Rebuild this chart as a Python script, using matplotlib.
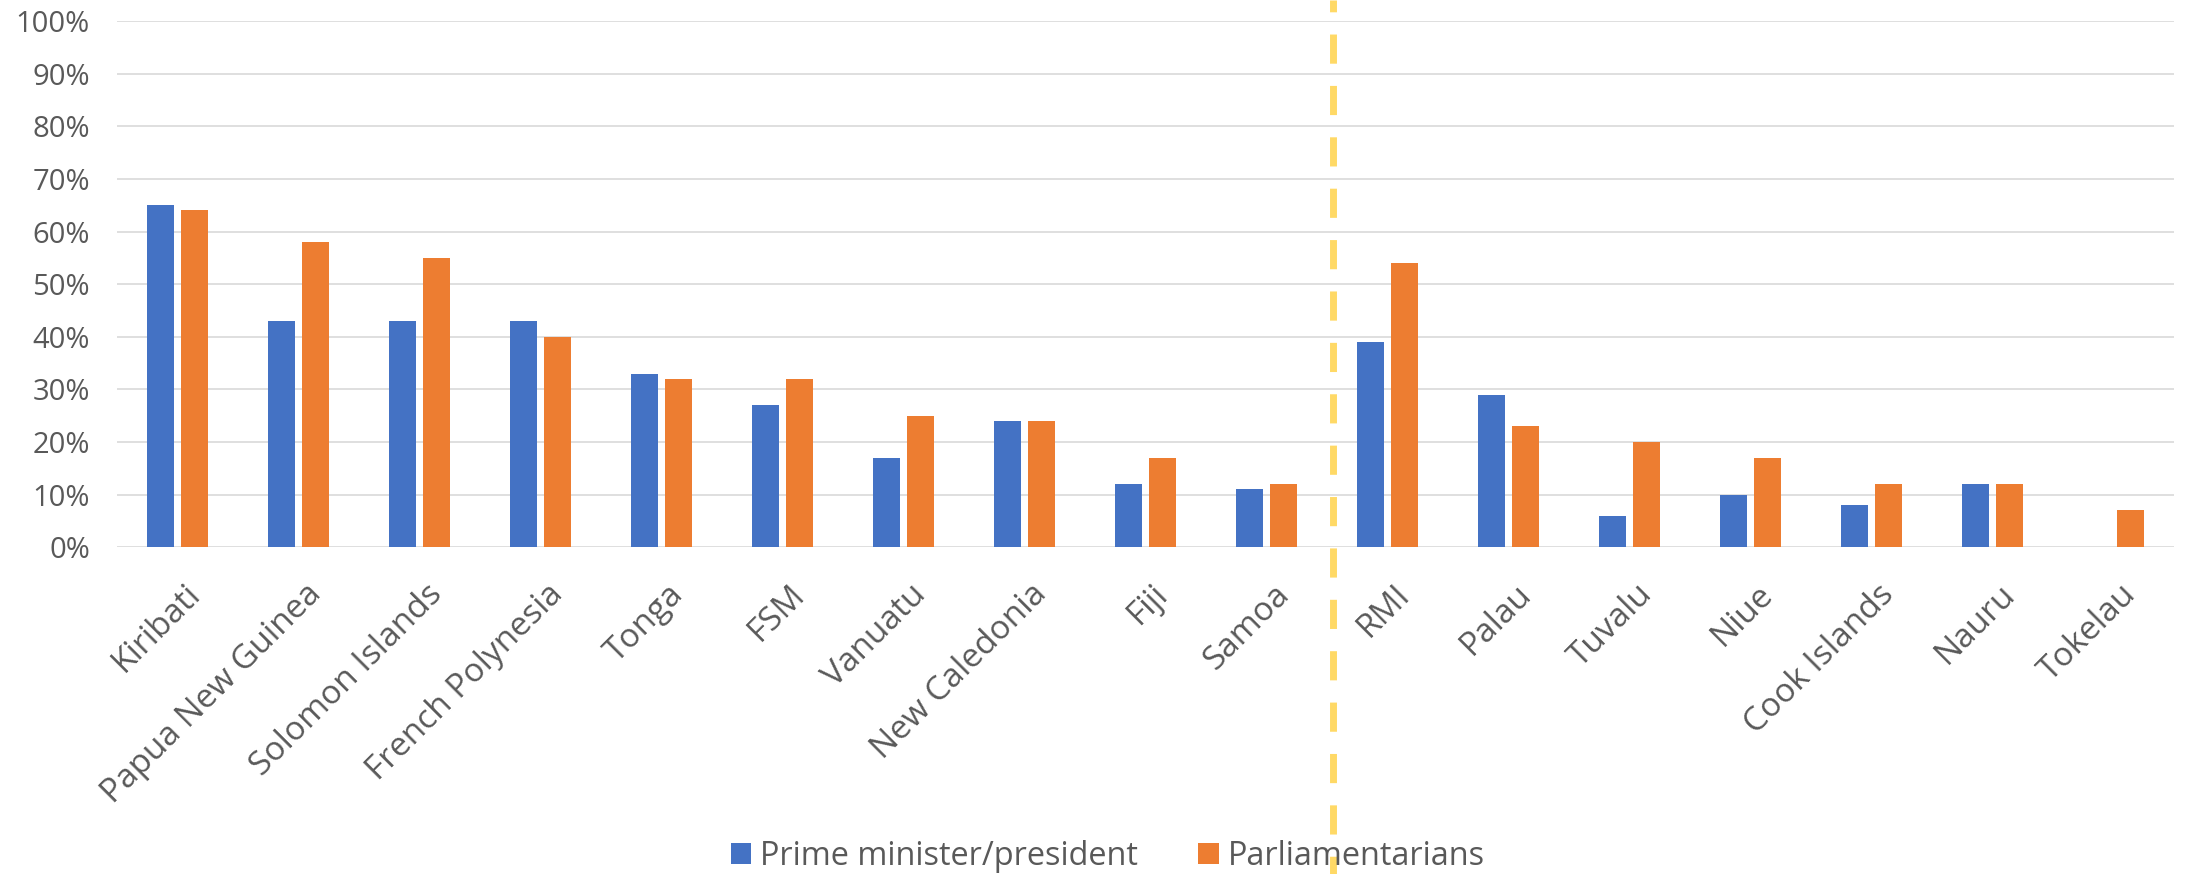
import numpy as np
import matplotlib.pyplot as plt
from matplotlib.lines import Line2D
from matplotlib.transforms import blended_transform_factory, ScaledTranslation

plt.rcParams['font.family'] = ['Open Sans', 'DejaVu Sans']

countries = ["Kiribati", "Papua New Guinea", "Solomon Islands", "French Polynesia",
             "Tonga", "FSM", "Vanuatu", "New Caledonia", "Fiji", "Samoa",
             "RMI", "Palau", "Tuvalu", "Niue", "Cook Islands", "Nauru", "Tokelau"]
pm_president = [65, 43, 43, 43, 33, 27, 17, 24, 12, 11, 39, 29, 6, 10, 8, 12, 0]
parliamentarians = [64, 58, 55, 40, 32, 32, 25, 24, 17, 12, 54, 23, 20, 17, 12, 12, 7]
y_ticks = [0, 10, 20, 30, 40, 50, 60, 70, 80, 90, 100]
series_names = ["Prime minister/president", "Parliamentarians"]

BLUE = "#4472C4"
ORANGE = "#ED7D31"
GRID = "#D9D9D9"
TEXT = "#595959"

fig = plt.figure(figsize=(21.88, 8.74), dpi=100)
ax = fig.add_axes([117 / 2188, 0.3738, (2174 - 117) / 2188, 0.6022])

x = np.arange(len(countries))
w = 0.225
off = 0.143
ax.bar(x - off, pm_president, w, color=BLUE, label=series_names[0], zorder=2)
ax.bar(x + off, parliamentarians, w, color=ORANGE, label=series_names[1], zorder=2)

ax.set_xlim(-0.5, len(countries) - 0.5)
ax.set_ylim(0, 100)
ax.set_yticks(y_ticks)
ax.set_yticklabels([f"{t}%" for t in y_ticks])
ax.set_xticks(x)
ax.set_xticklabels(countries, rotation=45, ha='right', rotation_mode='anchor')

ax.yaxis.grid(True, color=GRID, lw=1.2)
ax.set_axisbelow(True)
for s in ax.spines.values():
    s.set_visible(False)
ax.tick_params(axis='both', length=0, colors=TEXT)
ax.tick_params(axis='y', pad=19.5, labelsize=21)
ax.tick_params(axis='x', pad=22, labelsize=24)

# nudge the rotated labels a little to the right, like the original
shift = ScaledTranslation(6 / 100, 0, fig.dpi_scale_trans)
for lab in ax.get_xticklabels():
    lab.set_transform(lab.get_transform() + shift)

# divider between the two groups, running the full height of the figure
trans = blended_transform_factory(ax.transData, fig.transFigure)
ax.add_line(Line2D([9.55, 9.55], [1, 0], transform=trans, color="#FFD966",
                   lw=5, linestyle=(2.5, (4.2, 3.2)), clip_on=False, zorder=3))

leg = ax.legend(loc='center', bbox_to_anchor=(0.5064, 0.02),
                bbox_transform=fig.transFigure, ncol=2, frameon=False,
                fontsize=23.4, handlelength=0.62, handleheight=0.62,
                handletextpad=0.3, columnspacing=1.85, borderpad=0)
for t in leg.get_texts():
    t.set_color(TEXT)

fig.savefig("out.png", dpi=100)
